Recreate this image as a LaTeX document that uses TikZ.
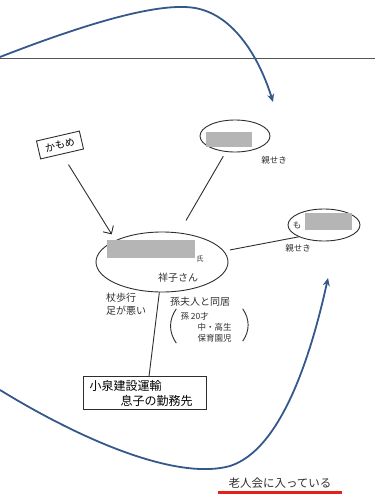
\documentclass[tikz,border=0pt]{standalone}
\usepackage{fontspec}
\setmainfont{Noto Sans CJK JP}
\usetikzlibrary{shapes.geometric, arrows.meta, positioning}
\definecolor{inkgray}{HTML}{2E2E2E}
\definecolor{rulegray}{HTML}{555555}
\definecolor{penblue}{HTML}{35588C}
\definecolor{maskgray}{HTML}{B5B5B5}
\definecolor{markred}{HTML}{E3211C}

\begin{document}
\begin{tikzpicture}[x=1pt, y=-1pt,
  person/.style={ellipse, draw=inkgray, line width=0.9pt, inner sep=0pt},
  tagbox/.style={rectangle, draw=inkgray, line width=0.9pt, align=left,
                 inner xsep=6pt, inner ysep=3pt},
  memo/.style={font=\fontsize{10}{13}\selectfont, text=inkgray, align=left, inner sep=1pt},
  small/.style={font=\fontsize{8.5}{11}\selectfont},
  mask/.style={rectangle, fill=maskgray, inner sep=0pt},
  link/.style={inkgray, line width=0.9pt},
  arr/.style={-{Straight Barb[length=6pt]}, inkgray, line width=0.9pt},
  flow/.style={-{Stealth[length=8pt, width=7pt]}, penblue, line width=1.8pt},
  node distance=2pt,
]
  \useasboundingbox (0,0) rectangle (375,498);
  \draw[rulegray, line width=1pt] (0,58) -- (375,58);

  \node[person, minimum width=132pt, minimum height=60pt] (self) at (162,262) {};
  \node[person, minimum width=70pt, minimum height=32pt]  (relA) at (235,136) {};
  \node[person, minimum width=72pt, minimum height=32pt]  (relB) at (324,225) {};

  \node[mask, minimum width=88pt, minimum height=18pt] (selfname) at (151,249) {};
  \node[memo, font=\fontsize{7}{8}\selectfont] (selfsuffix) at (200,259) {氏};
  \node[memo] (selfsub) at (178,278) {祥子さん};

  \node[mask, minimum width=46pt, minimum height=15pt] (relAname) at (229,139) {};
  \node[memo, small, below left=8pt and -28pt of relA.south east] (relAkin) {親せき};

  \node[mask, minimum width=47pt, minimum height=17pt] (relBname) at (328,221) {};
  \node[memo, small] (relBhead) at (297,225) {も};
  \node[memo, small] (relBkin) at (298,248) {親せき};

  \node[tagbox, rotate=13, inner xsep=7pt, inner ysep=5pt,
        font=\fontsize{10}{12}\selectfont] (kamome) at (60,145) {かもめ};

  \node[memo] (legs) at (126,304) {杖歩行\\足が悪い};
  \node[memo] (family) at (200,302) {孫夫人と同居};
  \node[memo, small] (grand) at (206,327) {孫\ 20才\\\hspace{2em}中・高生\\\hspace{2em}保育園児};
  \draw[link] ([xshift=-3pt, yshift=2pt]grand.north west) to[bend right=35] ([xshift=-3pt]grand.south west);
  \draw[link] ([xshift=10pt, yshift=2pt]grand.north east) to[bend left=35] ([xshift=10pt, yshift=2pt]grand.south east);

  \node[tagbox, text width=111pt, font=\fontsize{12}{15}\selectfont] (work) at (145,393)
    {小泉建設運輸\\\hspace{2.6em}息子の勤務先};

  \node[memo, font=\fontsize{11.5}{13}\selectfont] (club) at (280,483) {老人会に入っている};
  \draw[markred, line width=3pt] ([xshift=-9pt, yshift=-3pt]club.south west) -- ([xshift=9pt, yshift=-3pt]club.south east);

  \draw[arr, shorten <=12pt, shorten >=7pt] (kamome.south) -- (self.155);
  \draw[link, shorten <=14pt, shorten >=5pt] (self.60) -- (relA.240);
  \draw[link, shorten <=6pt] (self.10) -- (relB.205);
  \draw[link] (self.265) -- ([xshift=4pt]work.north);

  \coordinate (topfrom) at (0,57);
  \coordinate (topto) at (273,102);
  \draw[flow] (topfrom) .. controls (90,22) and (160,2) .. (195,8)
    .. controls (235,15) and (260,60) .. (topto);

  \coordinate (lowfrom) at (0,390);
  \coordinate (lowto) at (328,278);
  \draw[flow] (lowfrom) .. controls (90,445) and (180,480) .. (230,466)
    .. controls (280,450) and (310,360) .. (lowto);
\end{tikzpicture}
\end{document}
